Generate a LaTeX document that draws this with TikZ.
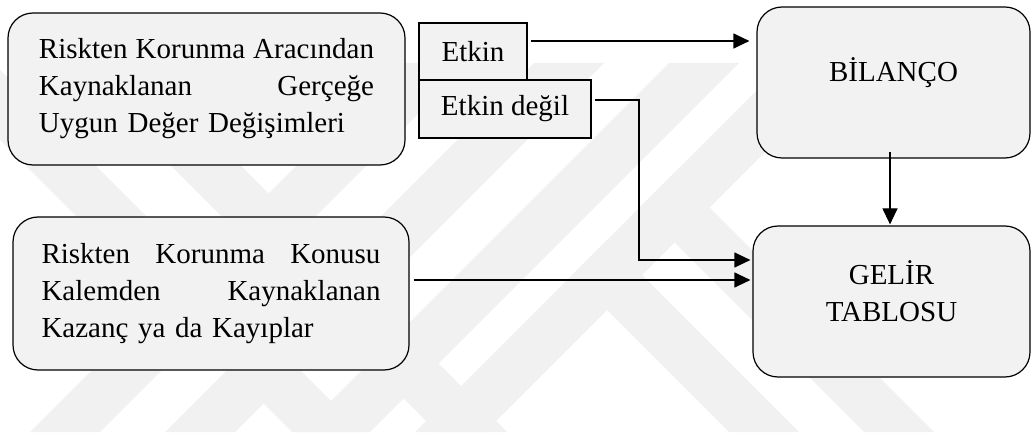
\documentclass[tikz,border=0pt]{standalone}
\usepackage{fontspec}
\setmainfont{Liberation Serif}
\usetikzlibrary{arrows.meta,calc}
\definecolor{boxfill}{RGB}{242,242,242}
\definecolor{wmark}{RGB}{241,241,241}
\newcommand{\spreadline}[2]{\leavevmode\hbox to #1{\spaceskip=0.25em plus 1fil\relax #2}}
\begin{document}
\begin{tikzpicture}[x=0.5pt,y=-0.5pt,
  txt/.style={font=\fontsize{14.5pt}{18.5pt}\selectfont},
  roundbox/.style={draw=black, line width=0.6pt, fill=boxfill, rounded corners=12.5pt, inner sep=0pt, txt},
  flatbox/.style={draw=black, line width=0.6pt, fill=boxfill, inner sep=0pt, txt},
  arr/.style={line width=0.6pt, -{Triangle[length=8pt,width=7.5pt]}},
  stripe/.style={fill=wmark, draw=none}]
\useasboundingbox (0,0) rectangle (1032,438);

% faint striped emblem in the background
\begin{scope}
  \clip (0,63) rectangle (1032,432);
  \fill[stripe] (399,63) -- (469,63) -- (100,432) -- (30,432) -- cycle;
  \fill[stripe] (534,63) -- (604,63) -- (235,432) -- (165,432) -- cycle;
  \fill[stripe] (669,63) -- (739,63) -- (370,432) -- (300,432) -- cycle;
  \fill[stripe] (784,63) -- (854,63) -- (485,432) -- (415,432) -- cycle;
  \fill[stripe] (-77,63) -- (-7,63) -- (362,432) -- (292,432) -- cycle;
  \fill[stripe] (68,63) -- (138,63) -- (507,432) -- (437,432) -- cycle;
  \fill[stripe] (572,275) -- (607,240) -- (799,432) -- (729,432) -- cycle;
  \fill[stripe] (639.5,207.5) -- (674.5,172.5) -- (934,432) -- (864,432) -- cycle;
\end{scope}

% boxes
\node[roundbox, minimum width=198.5pt, minimum height=76pt, text width=167.5pt, align=left]
  (ara) at (206.5,89)
  {\spreadline{167.5pt}{Riskten Korunma Aracından}\\
   \spreadline{167.5pt}{Kaynaklanan Gerçeğe}\\
   Uygun Değer Değişimleri};
\node[roundbox, minimum width=198pt, minimum height=76.5pt, text width=169.5pt, align=left]
  (kon) at (211,293.5)
  {\spreadline{169.5pt}{Riskten Korunma Konusu}\\
   \spreadline{169.5pt}{Kalemden Kaynaklanan}\\
   Kazanç ya da Kayıplar};
\node[flatbox, minimum width=54pt, minimum height=28.5pt] (etk) at (473,51.5) {Etkin};
\node[flatbox, minimum width=86pt, minimum height=29pt] (etd) at (505,109) {Etkin değil};
\node[roundbox, minimum width=136.5pt, minimum height=75.5pt, text height=10pt, text depth=10.5pt]
  (bil) at (893.5,82.5) {BİLANÇO};
\node[roundbox, minimum width=138.5pt, minimum height=75.5pt, text width=130pt, align=center,
  text height=10pt, text depth=27.5pt]
  (gel) at (891.5,301.5) {GELİR\\TABLOSU};

% connectors
\coordinate (e1) at ($(etk.east)+(3,-10.5)$);
\draw[arr, shorten >=3.5pt] (e1) -- (e1 -| bil.west);
\coordinate (e2) at ($(etd.east)+(3,-9)$);
\coordinate (k2) at (639,260);
\draw[arr, shorten >=1pt] (e2) -| (k2) -- (k2 -| gel.west);
\coordinate (e3) at ($(kon.east)+(4,-13.5)$);
\draw[arr, shorten >=1pt] (e3) -- (e3 -| gel.west);
\coordinate (e4) at ($(bil.south)+(-3.5,-7)$);
\draw[arr, shorten >=0.5pt] (e4) -- (e4 |- gel.north);
\end{tikzpicture}
\end{document}
